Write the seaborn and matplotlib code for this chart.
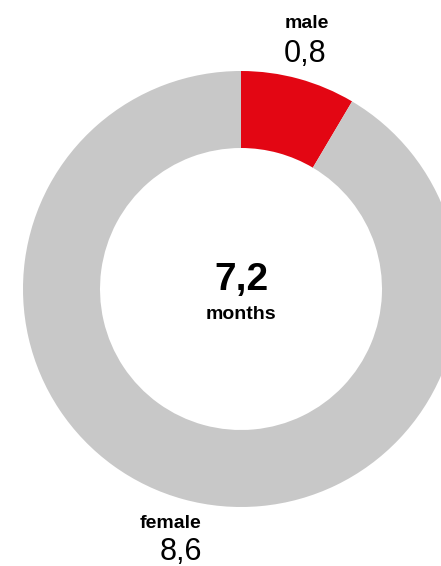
import matplotlib
matplotlib.use('Agg')
import matplotlib.pyplot as plt
import seaborn as sns

# data
labels = ['male', 'female']
values = [0.8, 8.6]
value_labels = ['0,8', '8,6']
center_value = '7,2'
center_unit = 'months'
colors = ['#E30613', '#C8C8C8']

sns.set_theme(style='white')
plt.rcParams['font.family'] = ['Liberation Sans', 'DejaVu Sans']

W, H = 441, 566
fig = plt.figure(figsize=(W / 100, H / 100), dpi=100)
ax = fig.add_axes([0, 0, 1, 1])

# donut, pixel coordinates (y flipped)
cx, cy = 241, H - 289
ax.pie(values, colors=colors, startangle=90, counterclock=False,
       center=(cx, cy), radius=218,
       wedgeprops=dict(width=77, linewidth=0))
ax.set_xlim(0, W)
ax.set_ylim(0, H)
ax.set_aspect('equal')
ax.axis('off')

# center text
ax.text(cx, H - 290, center_value, ha='center', va='baseline',
        fontsize=28, fontweight='bold', color='black')
ax.text(cx, H - 319, center_unit, ha='center', va='baseline',
        fontsize=14, fontweight='bold', color='black')

# slice labels
ax.text(307, H - 28, labels[0], ha='center', va='baseline',
        fontsize=14, fontweight='bold', color='black')
ax.text(305, H - 62, value_labels[0], ha='center', va='baseline',
        fontsize=22, color='black')
ax.text(170, H - 528, labels[1], ha='center', va='baseline',
        fontsize=14, fontweight='bold', color='black')
ax.text(181, H - 560, value_labels[1], ha='center', va='baseline',
        fontsize=22, color='black')

fig.savefig('out.png', dpi=100)
